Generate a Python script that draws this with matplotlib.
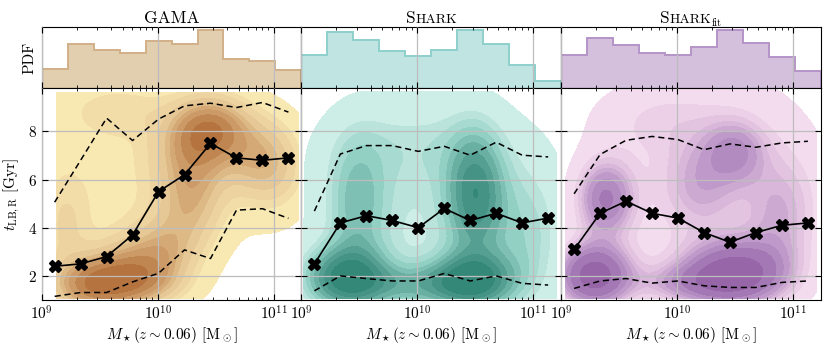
import numpy as np
import matplotlib
matplotlib.use("Agg")
import matplotlib.pyplot as plt
import matplotlib.transforms as mtrans
from matplotlib.colors import LinearSegmentedColormap
from matplotlib.ticker import LogLocator, NullFormatter, FixedLocator

plt.rcParams.update({
    "font.family": "serif",
    "font.serif": ["cmr10"],
    "mathtext.fontset": "cm",
    "axes.formatter.use_mathtext": True,
    "axes.unicode_minus": False,
})

# ---------------- data ----------------
log_edges = [9.000, 9.224, 9.448, 9.672, 9.896, 10.120, 10.344, 10.568, 10.792, 11.016, 11.240]
log_centers = [9.112, 9.336, 9.560, 9.784, 10.008, 10.232, 10.456, 10.680, 10.904, 11.128]

gama_pdf = [0.238, 0.548, 0.476, 0.435, 0.580, 0.548, 0.718, 0.360, 0.338, 0.226]
shark_pdf = [0.387, 0.668, 0.567, 0.444, 0.375, 0.447, 0.687, 0.528, 0.276, 0.088]
fit_pdf = [0.385, 0.579, 0.493, 0.405, 0.382, 0.478, 0.667, 0.516, 0.362, 0.200]

gama_med = [2.4, 2.5, 2.8, 3.7, 5.5, 6.2, 7.5, 6.9, 6.8, 6.9]
gama_p84 = [5.06, 6.8, 8.55, 7.62, 8.51, 9.06, 9.17, 8.99, 9.20, 8.80]
gama_p16 = [1.15, 1.31, 1.31, 1.75, 2.11, 3.08, 2.72, 4.73, 4.79, 4.39]

shark_med = [2.5, 4.2, 4.5, 4.3, 4.0, 4.8, 4.3, 4.6, 4.2, 4.4]
shark_p84 = [4.69, 7.06, 7.41, 7.41, 7.17, 7.38, 7.01, 7.55, 7.01, 6.94]
shark_p16 = [1.38, 2.00, 1.89, 1.79, 1.79, 2.10, 1.79, 2.00, 1.69, 1.62]

fit_med = [3.1, 4.6, 5.1, 4.6, 4.4, 3.8, 3.4, 3.8, 4.1, 4.2]
fit_p84 = [5.41, 7.04, 7.63, 7.79, 7.66, 7.24, 7.48, 7.34, 7.52, 7.59]
fit_p16 = [1.48, 1.79, 1.89, 1.70, 1.79, 1.59, 1.52, 1.52, 1.73, 1.79]

# density kernels: log mass, t, width in log mass, width in t, weight
gama_kx = [9.45, 9.75, 10.05, 10.28, 10.47, 10.30, 10.85, 10.30, 9.70, 11.05, 9.20, 9.65, 9.90]
gama_ky = [1.60, 2.20, 3.00, 4.60, 8.20, 7.40, 6.90, 6.00, 6.50, 6.30, 4.00, 8.90, 1.60]
gama_ksx = [0.25, 0.25, 0.22, 0.20, 0.22, 0.22, 0.22, 0.20, 0.80, 0.20, 0.15, 0.30, 0.25]
gama_ksy = [0.75, 0.90, 1.00, 1.10, 0.90, 1.00, 1.20, 1.00, 3.50, 1.40, 1.50, 0.70, 0.60]
gama_kw = [1.10, 0.75, 0.55, 0.45, 0.95, 0.55, 0.60, 0.40, 0.30, 0.30, 0.30, 0.22, 0.35]
gama_box = [9.13, 11.215, 1.06, 9.60]

shark_kx = [9.38, 9.48, 10.48, 10.50, 10.00, 10.10, 10.95, 9.95]
shark_ky = [1.90, 5.00, 1.80, 5.40, 1.60, 5.00, 3.50, 7.50]
shark_ksx = [0.25, 0.18, 0.24, 0.17, 0.35, 0.80, 0.22, 0.50]
shark_ksy = [0.90, 2.00, 0.80, 1.80, 0.60, 3.50, 2.20, 1.20]
shark_kw = [1.00, 0.45, 0.95, 0.80, 0.45, 0.30, 0.30, 0.15]
shark_box = [9.02, 11.20, 1.06, 9.64]

fit_kx = [9.28, 9.38, 10.50, 10.50, 10.10, 10.30, 10.90, 10.20, 9.80]
fit_ky = [2.00, 5.20, 2.10, 7.20, 1.70, 6.00, 4.50, 5.80, 8.50]
fit_ksx = [0.22, 0.17, 0.30, 0.18, 0.32, 0.80, 0.22, 0.22, 0.40]
fit_ksy = [0.90, 1.10, 0.90, 0.90, 0.55, 4.00, 1.80, 1.30, 1.00]
fit_kw = [1.20, 0.75, 1.10, 0.45, 0.40, 0.30, 0.35, 0.30, 0.15]
fit_box = [9.04, 11.20, 1.06, 9.80]

panels = [
    dict(title=[("GAMA", 12.5, 0)], pdf=gama_pdf, med=gama_med, p84=gama_p84, p16=gama_p16,
         k=(gama_kx, gama_ky, gama_ksx, gama_ksy, gama_kw), box=gama_box,
         cols=["#f8e8b2", "#e6c896", "#cc9a66", "#a8602c"], hfill="#e2cfb0", hedge="#d2b088"),
    dict(title=[("S", 12.5, 0), ("HARK", 10.0, 0)], pdf=shark_pdf, med=shark_med, p84=shark_p84, p16=shark_p16,
         k=(shark_kx, shark_ky, shark_ksx, shark_ksy, shark_kw), box=shark_box,
         cols=["#cdeee6", "#93d0c4", "#559f92", "#237c6b"], hfill="#c0e4e2", hedge="#8ed0cc"),
    dict(title=[("S", 12.5, 0), ("HARK", 10.0, 0), ("fit", 7.5, -2.2)], pdf=fit_pdf, med=fit_med, p84=fit_p84, p16=fit_p16,
         k=(fit_kx, fit_ky, fit_ksx, fit_ksy, fit_kw), box=fit_box,
         cols=["#f4dcef", "#d8b7da", "#b28bc0", "#8a549e"], hfill="#d4bfdd", hedge="#b594c8"),
]

n_levels = 10
thresh = 0.012


def density(kx, ky, ksx, ksy, kw, box, n=260):
    gx = np.linspace(box[0], box[1], n)
    gy = np.linspace(box[2], box[3], n)
    X, Y = np.meshgrid(gx, gy)
    Z = np.zeros_like(X)
    for a, b, sa, sb, w in zip(kx, ky, ksx, ksy, kw):
        Z += w * np.exp(-0.5 * ((X - a) / sa) ** 2 - 0.5 * ((Y - b) / sb) ** 2)
    return 10 ** X, Y, Z


def iso_levels(Z, thresh, n):
    # density values enclosing given mass proportions (as seaborn's kdeplot does)
    vals = np.sort(Z.ravel())[::-1]
    cum = np.cumsum(vals) / vals.sum()
    props = np.linspace(thresh, 1, n)
    idx = np.searchsorted(cum, 1 - props)
    lv = np.take(vals, idx, mode="clip")
    return list(lv) + [Z.max() * 1.001]


def title_parts(ax, parts, pad_pts=2.9):
    fig = ax.figure
    r = fig.canvas.get_renderer()
    objs = []
    for s, size, dy in parts:
        t = ax.text(0.5, 1.0, s, transform=ax.transAxes, fontsize=size, ha="left", va="baseline")
        objs.append((t, dy))
    widths = [t.get_window_extent(r).width for t, _ in objs]
    x = -sum(widths) / 2
    for (t, dy), w in zip(objs, widths):
        t.set_transform(ax.transAxes + mtrans.ScaledTranslation(x / fig.dpi, (pad_pts + dy) / 72, fig.dpi_scale_trans))
        x += w


fig = plt.figure(figsize=(8.3, 3.46), dpi=100)
gs = fig.add_gridspec(2, 3, left=0.0502, right=0.989, bottom=0.133, top=0.921,
                      wspace=0, hspace=0, height_ratios=[60.7, 212])

edges = 10 ** np.array(log_edges)
centers = 10 ** np.array(log_centers)
xlim = (1e9, 10 ** 11.24)
grid_kw = dict(color="#bdbdbd", lw=0.9)

for i, p in enumerate(panels):
    axh = fig.add_subplot(gs[0, i])
    ax = fig.add_subplot(gs[1, i])

    # histogram
    axh.stairs(p["pdf"], edges, fill=True, color=p["hfill"], zorder=1)
    axh.stairs(p["pdf"], edges, fill=False, color=p["hedge"], lw=1.4, zorder=1.2)
    axh.set_xscale("log")
    axh.set_xlim(xlim)
    axh.set_ylim(0, 1.05 * max(p["pdf"]))
    axh.set_yticks([])
    axh.xaxis.set_major_locator(LogLocator(base=10, numticks=10))
    axh.xaxis.set_minor_locator(LogLocator(base=10, subs=np.arange(2, 10), numticks=10))
    axh.tick_params(axis="x", which="both", direction="in", top=True, bottom=True, labelbottom=False)
    axh.tick_params(axis="x", which="major", length=4)
    axh.tick_params(axis="x", which="minor", length=2)
    axh.set_axisbelow(False)
    axh.grid(True, axis="x", which="major", **grid_kw)
    if i == 0:
        axh.set_ylabel("PDF", fontsize=11)
    title_parts(axh, p["title"])

    # density contours
    X, Y, Z = density(*p["k"], p["box"])
    lv = iso_levels(Z, thresh, n_levels)
    cmap = LinearSegmentedColormap.from_list("c%d" % i, p["cols"])
    colors = [cmap(v) for v in np.linspace(0, 1, len(lv) - 1)]
    ax.contourf(X, Y, Z, levels=lv, colors=colors, zorder=1)

    ax.plot(centers, p["p84"], color="black", lw=1.1, ls=(0, (4, 2.5)), zorder=3)
    ax.plot(centers, p["p16"], color="black", lw=1.1, ls=(0, (4, 2.5)), zorder=3)
    ax.plot(centers, p["med"], color="black", lw=1.2, marker="X", ms=8, zorder=4)

    ax.set_xscale("log")
    ax.set_xlim(xlim)
    ax.set_ylim(1.0, 9.8)
    ax.xaxis.set_major_locator(LogLocator(base=10, numticks=10))
    ax.xaxis.set_minor_locator(LogLocator(base=10, subs=np.arange(2, 10), numticks=10))
    ax.xaxis.set_minor_formatter(NullFormatter())
    ax.yaxis.set_major_locator(FixedLocator([2, 4, 6, 8]))
    ax.tick_params(which="both", direction="in", top=True, right=True, labelsize=11)
    ax.tick_params(which="major", length=4)
    ax.tick_params(which="minor", length=2)
    ax.set_axisbelow(False)
    ax.grid(True, which="major", **grid_kw)
    ax.set_xlabel(r"$M_\star(z\sim0.06)$ [M$_\odot$]", fontsize=11, labelpad=1)
    if i == 0:
        ax.set_ylabel(r"$t_{\rm LB,R}$ [Gyr]", fontsize=11)
    else:
        ax.tick_params(labelleft=False)

fig.savefig("out.png", dpi=100)
